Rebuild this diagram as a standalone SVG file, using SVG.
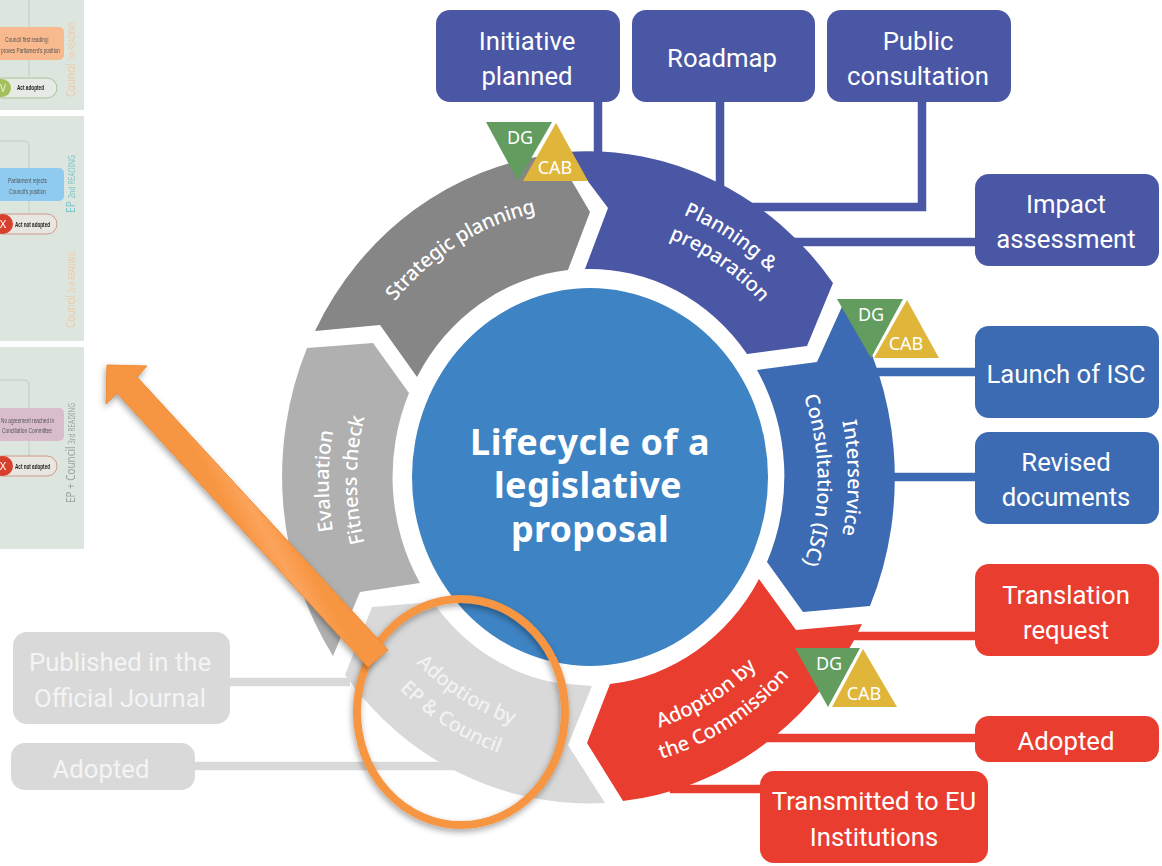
<svg xmlns="http://www.w3.org/2000/svg" xmlns:xlink="http://www.w3.org/1999/xlink" width="1162" height="866" viewBox="0 0 1162 866">
<style>
text{font-family:"Noto Sans","Liberation Sans",sans-serif}
.box{font-size:25.7px;fill:#fff;text-anchor:middle;font-family:Roboto,"Liberation Sans",sans-serif}
.boxg{font-size:25.7px;fill:#f4f4f4;text-anchor:middle;font-family:Roboto,"Liberation Sans",sans-serif}
.seg{font-size:20px;fill:#fff;text-anchor:middle;font-weight:500}
.tri{font-size:18px;fill:#fff;text-anchor:middle}
.pt{font-size:8px;fill:#555;font-family:"Liberation Sans",sans-serif}
.pb{font-size:8px;fill:#222;font-weight:bold;font-family:"Liberation Sans",sans-serif}
.vl{font-size:12px}
.sm{font-size:8px}
.pl{fill:#4a57a5}.is{fill:#3c6bb3}.rd{fill:#e93d30}.gy{fill:#d9d9d9}
.dg{fill:#629c5f}.cab{fill:#dfb63a}
.panel{fill:#dce6df}
.th{fill:none;stroke:#b9c4bd;stroke-width:.8}
</style>
<defs>
<filter id="sh" x="-20%" y="-20%" width="140%" height="140%"><feDropShadow dx="-1" dy="3" stdDeviation="3" flood-color="#000" flood-opacity=".35"/></filter>
<filter id="soft" x="0" y="0" width="100%" height="100%"><feGaussianBlur stdDeviation=".35"/></filter>
<linearGradient id="og" gradientUnits="userSpaceOnUse" x1="235" y1="520" x2="270" y2="500"><stop offset="0" stop-color="#f79642"/><stop offset=".5" stop-color="#fca35c"/><stop offset="1" stop-color="#f79642"/></linearGradient>
<path id="tStrat" d="M368 342 A254 270 0 0 1 584 207"/>
<path id="tPlan1" d="M620 198 A265 281 0 0 1 810 324"/>
<path id="tPlan2" d="M613 225 A238 253 0 0 1 794 350"/>
<path id="tEval" d="M353 597 A259 275 0 0 1 353 365"/>
<path id="tFit" d="M392 610 A231 245 0 0 1 392 350"/>
<path id="tInt" d="M813 340 A260 276 0 0 1 813 616"/>
<path id="tCon" d="M776 340 A230 244 0 0 1 776 620"/>
<path id="tCom1" d="M609 738 A245 262 0 0 0 789 627"/>
<path id="tCom2" d="M602 769 A275 292 0 0 0 824 627"/>
<path id="tEp1" d="M382 619 A245 260 0 0 0 567 736"/>
<path id="tEp2" d="M358 636 A274 292 0 0 0 564 768"/>
</defs>
<rect width="1162" height="866" fill="#fff"/>

<g id="left-panels" filter="url(#soft)">
<rect class="panel" x="0" y="0" width="84" height="110"/>
<rect class="panel" x="0" y="116" width="84" height="225"/>
<rect class="panel" x="0" y="347" width="84" height="202"/>
<path class="th" d="M29 0V27M29 60V77M0 141H24Q29 141 29 146V168M29 201V213M0 380H24Q29 380 29 385V408M29 441V456"/>
<rect x="-8" y="27" width="72" height="33" rx="5" fill="#f8b98e"/>
<text class="pt" x="5" y="42" textLength="44" lengthAdjust="spacingAndGlyphs">Council first reading:</text>
<text class="pt" x="1" y="53" textLength="59" lengthAdjust="spacingAndGlyphs">proves Parliament's position</text>
<rect x="-8" y="78" width="65" height="20" rx="10" fill="#e6eae4" stroke="#a8c49a"/>
<circle cx="2" cy="88" r="9" fill="#a3c05c"/>
<text x="3" y="92" font-size="10" fill="#e8f0d0" text-anchor="middle">V</text>
<text class="pb" x="17" y="90" textLength="27" lengthAdjust="spacingAndGlyphs">Act adopted</text>
<text class="vl" fill="#edc9aa" transform="translate(75 97) rotate(-90)" textLength="75" lengthAdjust="spacingAndGlyphs">Council <tspan class="sm">1st READING</tspan></text>
<rect x="-8" y="168" width="72" height="33" rx="5" fill="#8fcbf0"/>
<text class="pt" x="8" y="183" textLength="39" lengthAdjust="spacingAndGlyphs">Parliament rejects</text>
<text class="pt" x="9" y="194" textLength="37" lengthAdjust="spacingAndGlyphs">Council's position</text>
<rect x="-8" y="214" width="65" height="20" rx="10" fill="#e8e6e0" stroke="#d09a8c"/>
<circle cx="3" cy="224" r="10" fill="#d8402f"/>
<text x="3" y="228" font-size="11" fill="#fff" text-anchor="middle">X</text>
<text class="pb" x="15" y="227" textLength="35" lengthAdjust="spacingAndGlyphs">Act not adopted</text>
<text class="vl" fill="#7cc4c8" transform="translate(75 213) rotate(-90)" textLength="58" lengthAdjust="spacingAndGlyphs">EP <tspan class="sm">2nd READING</tspan></text>
<text class="vl" fill="#edc9aa" transform="translate(75 328) rotate(-90)" textLength="76" lengthAdjust="spacingAndGlyphs">Council <tspan class="sm">2nd READING</tspan></text>
<rect x="-8" y="408" width="72" height="33" rx="5" fill="#d9bdcd"/>
<text class="pt" x="1" y="423" textLength="53" lengthAdjust="spacingAndGlyphs">No agreement reached in</text>
<text class="pt" x="2" y="433" textLength="50" lengthAdjust="spacingAndGlyphs">Conciliation Committee</text>
<rect x="-8" y="456" width="65" height="20" rx="10" fill="#e8e6e0" stroke="#d09a8c"/>
<circle cx="3" cy="466" r="10" fill="#d8402f"/>
<text x="3" y="470" font-size="11" fill="#fff" text-anchor="middle">X</text>
<text class="pb" x="15" y="469" textLength="35" lengthAdjust="spacingAndGlyphs">Act not adopted</text>
<text class="vl" fill="#9aa5a0" transform="translate(75 503) rotate(-90)" textLength="100" lengthAdjust="spacingAndGlyphs">EP + Council <tspan class="sm">3rd READING</tspan></text>
</g>

<g id="connectors" fill="none" stroke-width="8.5">
<path stroke="#4a57a5" d="M598 102V158M720 102V188M922 102V207H750M975 242H790"/>
<path stroke="#3c6bb3" d="M975 372H870M975 477H890"/>
<path stroke="#e93d30" d="M975 636H850M975 738H760M760 789H670"/>
<path stroke="#d9d9d9" d="M230 682H350M195 766H480"/>
</g>

<g id="ring">
<g id="strategic-planning">
<path fill="#868686" d="M315 331 A306 325 0 0 1 556 154 L590 212 L568 270 A195 208 0 0 0 417 377 L380 325 Z"/>
<text class="seg" letter-spacing="-.3"><textPath href="#tStrat" xlink:href="#tStrat" startOffset="50%">Strategic planning</textPath></text>
</g>
<g id="planning">
<path class="pl" d="M566 152 A306 325 0 0 1 833 283 L807 346 L747 354 A195 208 0 0 0 585 269 L608 208 Z"/>
<text class="seg"><textPath href="#tPlan1" xlink:href="#tPlan1" startOffset="50%">Planning &amp;</textPath></text>
<text class="seg"><textPath href="#tPlan2" xlink:href="#tPlan2" startOffset="50%">preparation</textPath></text>
</g>
<g id="isc">
<path class="is" d="M845 300 A306 325 0 0 1 870 606 L803 612 L767 562 A195 208 0 0 0 757 370 L817 362 Z"/>
<text class="seg"><textPath href="#tInt" xlink:href="#tInt" startOffset="50%">Interservice</textPath></text>
<text class="seg"><textPath href="#tCon" xlink:href="#tCon" startOffset="50%">Consultation (ISC)</textPath></text>
</g>
<g id="adoption-commission">
<path class="rd" d="M610 684 A195 208 0 0 0 759 579 L796 630 L862 624 L853 642 A306 325 0 0 1 623 801 L587 743 Z"/>
<text class="seg"><textPath href="#tCom1" xlink:href="#tCom1" startOffset="50%">Adoption by</textPath></text>
<text class="seg"><textPath href="#tCom2" xlink:href="#tCom2" startOffset="50%">the Commission</textPath></text>
</g>
<g id="adoption-ep">
<path class="gy" d="M372 607 L433 602 A195 208 0 0 0 557 683 L592 686 L568 745 L605 803 A306 325 0 0 1 345 675 Z"/>
<text class="seg" style="fill:#f2f2f2"><textPath href="#tEp1" xlink:href="#tEp1" startOffset="50%">Adoption by</textPath></text>
<text class="seg" style="fill:#f2f2f2"><textPath href="#tEp2" xlink:href="#tEp2" startOffset="50%">EP &amp; Council</textPath></text>
</g>
<g id="evaluation">
<path fill="#b0b0b0" d="M307 348 L373 343 L409 393 A195 208 0 0 0 420 583 L360 592 L333 656 A306 325 0 0 1 307 348 Z"/>
<text class="seg"><textPath href="#tEval" xlink:href="#tEval" startOffset="50%">Evaluation</textPath></text>
<text class="seg"><textPath href="#tFit" xlink:href="#tFit" startOffset="50%">Fitness check</textPath></text>
</g>
</g>

<g id="center">
<ellipse cx="590" cy="477" rx="178" ry="189" fill="#3e83c3"/>
<g font-size="36" font-weight="700" fill="#fff" text-anchor="middle">
<text x="590" y="455" letter-spacing=".5">Lifecycle of a</text>
<text x="588" y="498" letter-spacing=".3">legislative</text>
<text x="590" y="542" letter-spacing=".2">proposal</text>
</g>
</g>

<g id="n-initiative"><rect class="pl" x="436" y="10" width="184" height="92" rx="14"/><text class="box" x="527" y="50">Initiative</text><text class="box" x="527" y="85">planned</text></g>
<g id="n-roadmap"><rect class="pl" x="632" y="10" width="183" height="92" rx="14"/><text class="box" x="722" y="67">Roadmap</text></g>
<g id="n-public"><rect class="pl" x="827" y="10" width="184" height="92" rx="14"/><text class="box" x="918" y="50">Public</text><text class="box" x="918" y="85">consultation</text></g>
<g id="n-impact"><rect class="pl" x="975" y="174" width="184" height="92" rx="14"/><text class="box" x="1066" y="213">Impact</text><text class="box" x="1066" y="248">assessment</text></g>
<g id="n-launch"><rect class="is" x="975" y="326" width="184" height="92" rx="14"/><text class="box" x="1066" y="383">Launch of ISC</text></g>
<g id="n-revised"><rect class="is" x="975" y="432" width="184" height="92" rx="14"/><text class="box" x="1066" y="471">Revised</text><text class="box" x="1066" y="506">documents</text></g>
<g id="n-translation"><rect class="rd" x="975" y="564" width="184" height="92" rx="14"/><text class="box" x="1066" y="604">Translation</text><text class="box" x="1066" y="639">request</text></g>
<g id="n-adopted-red"><rect class="rd" x="975" y="716" width="184" height="46" rx="14"/><text class="box" x="1066" y="750">Adopted</text></g>
<g id="n-transmitted"><rect class="rd" x="760" y="771" width="228" height="92" rx="14"/><text class="box" x="874" y="810">Transmitted to EU</text><text class="box" x="874" y="846">Institutions</text></g>
<g id="n-published"><rect class="gy" x="13" y="632" width="217" height="92" rx="14"/><text class="boxg" x="120" y="671">Published in the</text><text class="boxg" x="120" y="707">Official Journal</text></g>
<g id="n-adopted-gray"><rect class="gy" x="11" y="743" width="184" height="47" rx="14"/><text class="boxg" x="101" y="778">Adopted</text></g>

<g id="badge-1"><polygon class="dg" points="486,122 552,122 518,181"/><polygon class="cab" points="556,123 588,181 523,181"/><text class="tri" x="520" y="144">DG</text><text class="tri" x="555" y="174">CAB</text></g>
<g id="badge-2"><polygon class="dg" points="837,299 903,299 871,358"/><polygon class="cab" points="907,300 939,358 874,358"/><text class="tri" x="871" y="321">DG</text><text class="tri" x="906" y="350">CAB</text></g>
<g id="badge-3"><polygon class="dg" points="795,648 860,648 828,707"/><polygon class="cab" points="863,649 897,707 832,707"/><text class="tri" x="829" y="670">DG</text><text class="tri" x="864" y="700">CAB</text></g>

<g id="highlight">
<ellipse cx="461" cy="712" rx="104" ry="113" fill="none" stroke="#f79642" stroke-width="8" filter="url(#sh)"/>
<polygon points="107,365 147,366 137,377 388,650 368,667 117,393 106,404" fill="url(#og)" stroke="#f08a30" stroke-width="1" filter="url(#sh)"/>
</g>
</svg>
